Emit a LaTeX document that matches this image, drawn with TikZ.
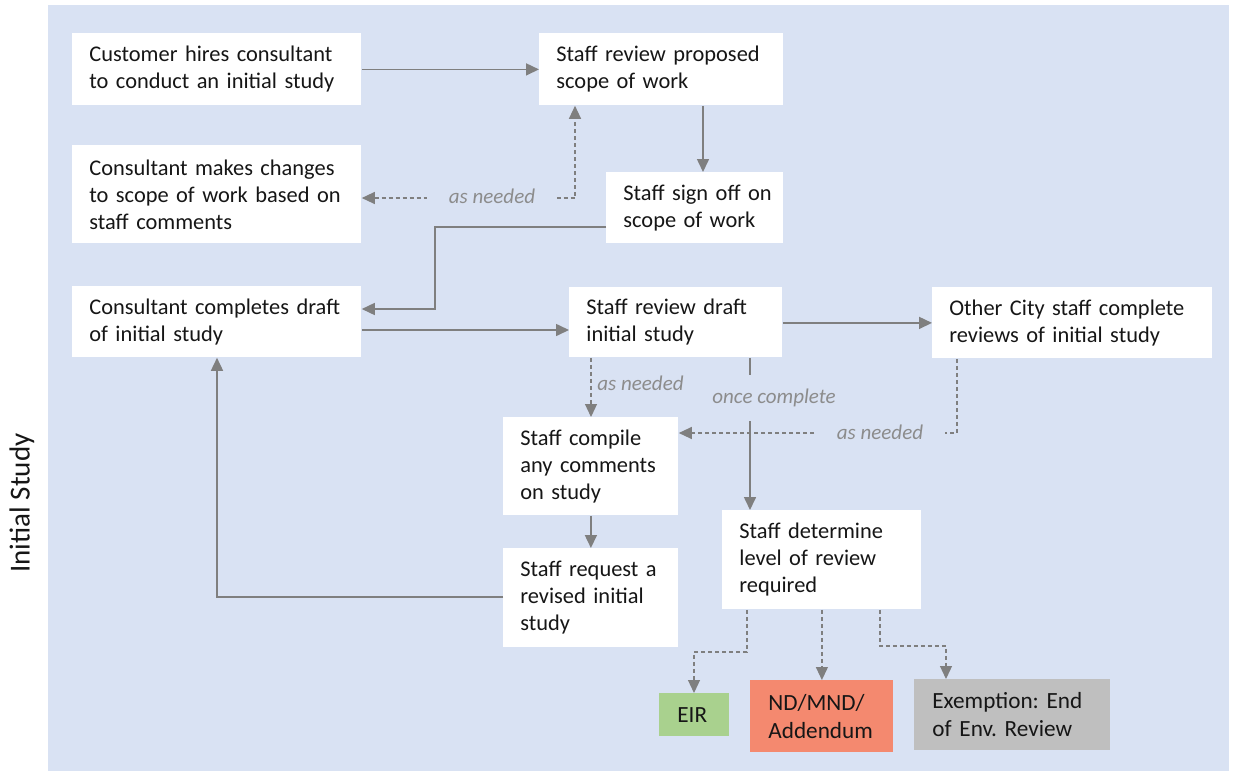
\documentclass[tikz,border=0pt]{standalone}
\usepackage{fontspec}
\setmainfont{Carlito}
\usetikzlibrary{arrows.meta}
\frenchspacing

\definecolor{panel}{HTML}{D9E2F3}
\definecolor{ln}{HTML}{7F7F7F}
\definecolor{lbltxt}{HTML}{8C8C8C}
\definecolor{txt}{HTML}{161616}
\definecolor{eirgreen}{HTML}{A9D18E}
\definecolor{ndred}{HTML}{F4896F}
\definecolor{exgray}{HTML}{BFBFBF}

\tikzset{
  stagebox/.style={fill=white, anchor=north west, inner xsep=0pt, inner ysep=0pt,
    align=left, text=txt, font=\fontsize{11.2pt}{13.5pt}\selectfont,
    execute at begin node={\leftskip=8.5pt}},
  outcome/.style={stagebox, font=\fontsize{11.6pt}{14pt}\selectfont,
    execute at begin node={\leftskip=9pt}},
  conn/.style={draw=ln, line width=0.8pt, -{Triangle[length=6.5pt,width=6pt]}},
  dconn/.style={conn, line width=0.6pt, dash pattern=on 2pt off 1.5pt},
  lbl/.style={text=lbltxt, font=\fontsize{10.5pt}{12pt}\selectfont\itshape, inner sep=1pt},
}

\begin{document}
\begin{tikzpicture}[x=0.5pt,y=-0.5pt]
  % page and swimlane background
  \fill[white] (0,0) rectangle (1236,771);
  \useasboundingbox (0,0) rectangle (1236,771);
  \fill[panel] (48,5) rectangle (1229,771);

  \node[rotate=90, text=txt, font=\fontsize{14.5pt}{16pt}\selectfont] (lane) at (22,503) {Initial Study};

  % process steps
  \node[stagebox, text width=144.5pt, minimum height=36pt] (b1) at (72,33)
    {Customer hires consultant\\to conduct an initial study};
  \node[stagebox, text width=122pt, minimum height=36pt] (b2) at (539,33)
    {Staff review proposed\\scope of work};
  \node[stagebox, text width=144.5pt, minimum height=49pt] (b3) at (72,145)
    {Consultant makes changes\\to scope of work based on\\staff comments};
  \node[stagebox, text width=88.5pt, minimum height=35.5pt] (b4) at (606,172)
    {Staff sign off on\\scope of work};
  \node[stagebox, text width=144.5pt, minimum height=35.5pt] (b5) at (72,286)
    {Consultant completes draft\\of initial study};
  \node[stagebox, text width=106.5pt, minimum height=35pt] (b6) at (569,287)
    {Staff review draft\\initial study};
  \node[stagebox, text width=140pt, minimum height=35.5pt] (b7) at (932,287)
    {Other City staff complete\\reviews of initial study};
  \node[stagebox, text width=87.5pt, minimum height=49pt] (b8) at (503,417)
    {Staff compile\\any comments\\on study};
  \node[stagebox, text width=87.5pt, minimum height=49.5pt] (b9) at (503,548)
    {Staff request a\\revised initial\\study};
  \node[stagebox, text width=99.5pt, minimum height=49.5pt] (b10) at (722,510)
    {Staff determine\\level of review\\required};

  % review outcomes
  \node[outcome, fill=eirgreen, text width=35pt, minimum height=21.5pt, align=center,
    execute at begin node={}] (eir) at (659,693) {EIR};
  \node[outcome, fill=ndred, text width=71.5pt, minimum height=36pt] (nd) at (750,680)
    {ND/MND/\\Addendum};
  \node[outcome, fill=exgray, text width=98pt, minimum height=35.5pt] (ex) at (914,679)
    {Exemption: End\\of Env. Review};

  % routing points
  \coordinate (c0) at (703,0);
  \coordinate (c1) at (575,198);
  \coordinate (c2) at (435,227);
  \coordinate (c3) at (435,309);
  \coordinate (c4) at (0,330);
  \coordinate (c5) at (591,0);
  \coordinate (c6) at (750,0);
  \coordinate (c7) at (957,433);
  \coordinate (c8) at (217,597);
  \coordinate (c9) at (747,652);
  \coordinate (c10) at (694,652);
  \coordinate (c12) at (880,646);
  \coordinate (c13) at (946,646);

  % connectors
  \draw[conn] (b1) -- (b2);
  \draw[conn] (b2.south -| c0) -- (b4.north -| c0);
  \draw[dconn, {Triangle[length=6.5pt,width=6pt]}-{Triangle[length=6.5pt,width=6pt]}]
    (b3.east |- c1) -- (c1) -- (b2.south -| c1);
  \draw[conn] (b4.west |- c2) -- (c2) -- (c3) -- (b5.east |- c3);
  \draw[conn] (b5.east |- c4) -- (b6.west |- c4);
  \draw[conn] (b6.east |- b7.west) -- (b7.west);
  \draw[dconn] (b6.south -| c5) -- (b8.north -| c5);
  \draw[conn] (b6.south -| c6) -- (b10.north -| c6);
  \draw[dconn] (b7.south -| c7) -- (c7) -- (b8.east |- c7);
  \draw[conn] (b8) -- (b9);
  \draw[conn] (b9.west |- c8) -- (c8) -- (c8 |- b5.south);
  \draw[dconn] (b10.south -| c9) -- (c9) -- (c10) -- (c10 |- eir.north);
  \draw[dconn] (b10.south -| nd.north) -- (nd.north);
  \draw[dconn] (b10.south -| c12) -- (c12) -- (c13) -- (c13 |- ex.north);

  % connector labels
  \node[lbl, fill=panel, inner xsep=11pt] (l1) at (492,196) {as needed};
  \node[lbl, anchor=west] (l2) at (595,383) {as needed};
  \node[lbl, fill=panel, inner xsep=1pt, inner ysep=7pt] (l3) at (774,398) {once complete};
  \node[lbl, fill=panel, inner xsep=11pt] (l4) at (880,432) {as needed};
\end{tikzpicture}
\end{document}
